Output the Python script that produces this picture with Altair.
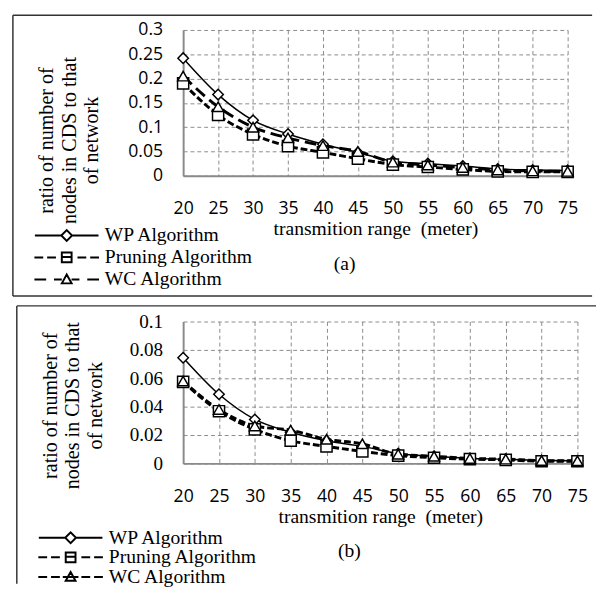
import altair as alt
import pandas as pd

SERIES = ["WP Algorithm", "Pruning Algorithm", "WC Algorithm"]
X_VALUES = [20, 25, 30, 35, 40, 45, 50, 55, 60, 65, 70, 75]

A_WP = [0.242, 0.167, 0.114, 0.086, 0.065, 0.048, 0.030, 0.025, 0.020, 0.014, 0.012, 0.011]
A_PR = [0.190, 0.125, 0.085, 0.061, 0.048, 0.035, 0.023, 0.018, 0.013, 0.009, 0.008, 0.008]
A_WC = [0.205, 0.142, 0.100, 0.078, 0.062, 0.050, 0.028, 0.022, 0.017, 0.012, 0.010, 0.009]

B_WP = [0.0745, 0.0487, 0.031, 0.022, 0.016, 0.012, 0.007, 0.005, 0.0035, 0.003, 0.002, 0.0018]
B_PR = [0.0575, 0.0368, 0.024, 0.016, 0.012, 0.0085, 0.0055, 0.004, 0.003, 0.0025, 0.0015, 0.0015]
B_WC = [0.058, 0.038, 0.0264, 0.0234, 0.017, 0.0138, 0.0065, 0.005, 0.0035, 0.003, 0.002, 0.0018]

A_YTICKS = [0, 0.05, 0.1, 0.15, 0.2, 0.25, 0.3]
B_YTICKS = [0, 0.02, 0.04, 0.06, 0.08, 0.1]
Y_TITLE = "ratio of number of\nnodes in CDS to that\nof network"
X_TITLE = "transmition range \u00a0(meter)"
PANEL_LABELS = ["(a)", "(b)"]

# legend symbols (line + marker), unit = sqrt(size)/2 px
WP_PATH = "M-6.5,0L-1.1,0M-1.1,0L0,-1.1L1.1,0L0,1.1ZM1.1,0L6.5,0"
PR_PATH = ("M-6.6,0L-4.8,0M-4.0,0L-2.2,0M-1,-1L1,-1L1,1L-1,1ZM-1,-0.1L1,-0.1"
           "M2.2,0L4.0,0M4.8,0L6.6,0")
WCA_PATH = "M-6.6,0L-4.2,0M-2.6,0L-1,0M-1,0.8L0,-1L1,0.8ZM1,0L2.6,0M4.2,0L6.6,0"
WCB_PATH = ("M-6.6,0L-4.8,0M-4.0,0L-2.2,0M-1,0.8L0,-1L1,0.8ZM-1.6,0L1.6,0"
            "M2.2,0L4.0,0M4.8,0L6.6,0")

SERIF = "Liberation Serif"
SANS = "Open Sans"
GRID = "#8a8a8a"


def frame_df(series_lists):
    rows = []
    for name, vals in zip(SERIES, series_lists):
        for x, y in zip(X_VALUES, vals):
            rows.append({"x": x, "y": y, "series": name})
    return pd.DataFrame(rows)


def panel(df, ymax, yticks, yfont, dashes, widths, paths, label, w, h,
          frame, title_xy, legend_xy, label_xy, rowpad):
    xenc = alt.X("x:Q", scale=alt.Scale(domain=[20, 75], nice=False),
                 axis=alt.Axis(values=X_VALUES, title=X_TITLE, grid=True,
                               gridDash=[4, 3], gridColor=GRID, gridWidth=1,
                               domainColor=GRID, domainWidth=2, ticks=False,
                               labelFont=SANS, labelFontSize=18, labelColor="black",
                               labelPadding=25, labelFlush=False, labelOverlap=False,
                               titleFont=SERIF, titleFontSize=20, titleFontWeight="normal",
                               titleColor="black", titlePadding=1))
    yenc = alt.Y("y:Q", scale=alt.Scale(domain=[0, ymax], nice=False),
                 axis=alt.Axis(values=yticks, format=".2~f", title=None, grid=True,
                               gridDash=[4, 3], gridColor=GRID, gridWidth=1,
                               domainColor=GRID, domainWidth=2, ticks=False, tickSize=0,
                               labelFont=yfont, labelFontSize=18 if yfont == SANS else 19.5,
                               labelColor="black", labelPadding=21))
    layers = []
    one = alt.Data(values=[{"k": 0}])
    fx1, fy1, fx2, fy2, has_bottom = frame
    layers.append(alt.Chart(one).mark_rule(color="#333", strokeWidth=1.5).encode(
        x=alt.value(fx1), x2=alt.value(fx2), y=alt.value(fy1)))
    layers.append(alt.Chart(one).mark_rule(color="#333", strokeWidth=1.5).encode(
        x=alt.value(fx1), y=alt.value(fy1), y2=alt.value(fy2)))
    if has_bottom:
        layers.append(alt.Chart(one).mark_rule(color="#333", strokeWidth=1.5).encode(
            x=alt.value(fx1), x2=alt.value(fx2), y=alt.value(fy2)))
    shapes = ["diamond", "square", "triangle-up"]
    sizes = [115, 130, 125]
    for s, d, lw in zip(SERIES, dashes, widths):
        kw = dict(color="black", strokeWidth=lw, interpolate="monotone")
        if d:
            kw["strokeDash"] = d
        layers.append(alt.Chart(df).transform_filter(alt.datum.series == s)
                      .mark_line(**kw).encode(x=xenc, y=yenc))
    for s, shp, sz in zip(SERIES, shapes, sizes):
        layers.append(alt.Chart(df).transform_filter(alt.datum.series == s)
                      .mark_point(shape=shp, size=sz, filled=True, fill="white",
                                  stroke="black", strokeWidth=1.5, opacity=1)
                      .encode(x=xenc, y=yenc))
    layers.append(alt.Chart(df).transform_filter("datum.x < 0")
                  .mark_point(filled=False, stroke="black", color="black",
                              strokeWidth=2, size=100, opacity=1)
                  .encode(x=xenc, y=yenc,
                          shape=alt.Shape("series:N",
                                          scale=alt.Scale(domain=SERIES, range=paths),
                                          legend=alt.Legend(
                                              orient="none", legendX=legend_xy[0],
                                              legendY=legend_xy[1], title=None,
                                              labelFont=SERIF, labelFontSize=20,
                                              labelColor="black", symbolSize=100,
                                              symbolStrokeWidth=2, symbolOpacity=1,
                                              symbolFillColor="white",
                                              symbolStrokeColor="black",
                                              labelOffset=29, rowPadding=rowpad,
                                              padding=0))))
    layers.append(alt.Chart(alt.Data(values=[{"t": label}]))
                  .mark_text(font=SERIF, fontSize=20, color="black", baseline="middle")
                  .encode(text="t:N", x=alt.value(label_xy[0]), y=alt.value(label_xy[1])))
    layers.append(alt.Chart(alt.Data(values=[{"t": Y_TITLE}]))
                  .mark_text(font=SERIF, fontSize=20.5, color="black", angle=270,
                             align="center", baseline="alphabetic", lineBreak="\n",
                             lineHeight=23)
                  .encode(text="t:N", x=alt.value(title_xy[0]), y=alt.value(title_xy[1])))
    return alt.layer(*layers).properties(width=w, height=h)


dfa = frame_df([A_WP, A_PR, A_WC])
dfb = frame_df([B_WP, B_PR, B_WC])

pa = panel(dfa, 0.3, A_YTICKS, SANS, [None, [7, 3], [12, 6]], [1.5, 3, 3],
           [WP_PATH, PR_PATH, WCA_PATH], PANEL_LABELS[0], 393, 149,
           (-174, -15, 418, 272, True), (-133, 113), (-129, 200), (165, 239), 2.5)
pb = panel(dfb, 0.1, B_YTICKS, SERIF, [None, [7, 3], [7, 3]], [1.5, 3, 3],
           [WP_PATH, PR_PATH, WCB_PATH], PANEL_LABELS[1], 403, 145,
           (-170, -16, 422, 268, False), (-129, 86), (-125, 211), (170, 235), 0)

chart = (alt.vconcat(pa, pb, spacing=8)
         .resolve_scale(x="independent", y="independent", shape="independent")
         .resolve_legend(shape="independent")
         .properties(padding={"left": 4, "top": 0, "right": 0, "bottom": 0})
         .configure_view(stroke=None))

chart.save("out.html", embed_options={"renderer": "svg", "actions": False})
